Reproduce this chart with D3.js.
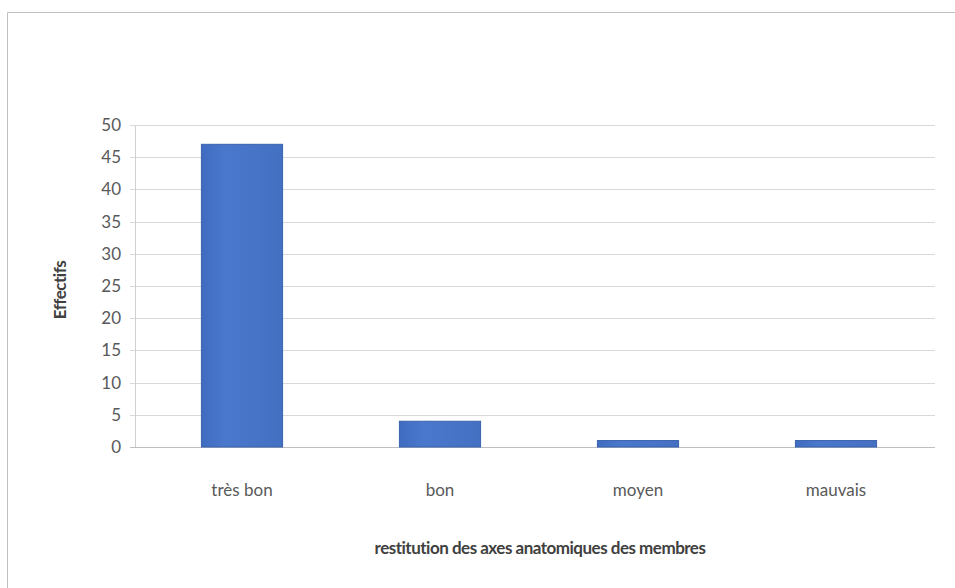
<!DOCTYPE html>
<html>
<head>
<meta charset="utf-8">
<script src="https://cdn.jsdelivr.net/npm/d3@7"></script>
<style>
  body { margin: 0; background: #fff; }
  svg text { font-family: Lato, "Open Sans", sans-serif; }
</style>
</head>
<body>
<svg id="chart" width="955" height="588"></svg>
<script>
var categories = ["très bon", "bon", "moyen", "mauvais"];
var effectifs = [47, 4, 1, 1];
var yTicks = [0, 5, 10, 15, 20, 25, 30, 35, 40, 45, 50];

var svg = d3.select("#chart");

// outer frame (only top and left edges show in the scan)
svg.append("path")
  .attr("d", "M7.5,588 V12.5 H955")
  .attr("fill", "none")
  .attr("stroke", "#c0c0c0");

var plotLeft = 143, plotRight = 935, plotTop = 125, plotBottom = 447;

var x = d3.scaleBand().domain(categories).range([plotLeft, plotRight]).paddingInner(0.59).paddingOuter(0.295);
var y = d3.scaleLinear().domain([0, 50]).range([plotBottom, plotTop]);

// gridlines
svg.append("g")
  .selectAll("line")
  .data(yTicks)
  .enter()
  .append("line")
  .attr("x1", 130).attr("x2", plotRight)
  .attr("y1", function(d){ return Math.round(y(d)) + 0.5; })
  .attr("y2", function(d){ return Math.round(y(d)) + 0.5; })
  .attr("stroke", function(d){ return d === 0 ? "#bfbfbf" : "#d9d9d9"; });

// y axis line
svg.append("line")
  .attr("x1", plotLeft - 7.5).attr("x2", plotLeft - 7.5)
  .attr("y1", plotTop).attr("y2", plotBottom)
  .attr("stroke", "#d0d0d0");

// y tick labels
svg.append("g")
  .selectAll("text")
  .data(yTicks)
  .enter()
  .append("text")
  .attr("x", 121)
  .attr("y", function(d){ return y(d); })
  .attr("dy", "0.35em")
  .attr("text-anchor", "end")
  .attr("fill", "#595959")
  .attr("font-size", 17)
  .text(function(d){ return d; });

var grad = svg.append("defs").append("linearGradient")
  .attr("id", "barGrad").attr("x1", 0).attr("x2", 1).attr("y1", 0).attr("y2", 0);
grad.append("stop").attr("offset", "0%").attr("stop-color", "#3f6cc0");
grad.append("stop").attr("offset", "30%").attr("stop-color", "#4a78cc");
grad.append("stop").attr("offset", "100%").attr("stop-color", "#4470c2");

// bars
svg.append("g")
  .selectAll("rect")
  .data(effectifs)
  .enter()
  .append("rect")
  .attr("x", function(d, i){ return x(categories[i]); })
  .attr("y", function(d){ return y(d); })
  .attr("width", x.bandwidth())
  .attr("height", function(d){ return plotBottom - y(d); })
  .attr("fill", "url(#barGrad)")
  .attr("stroke", "#3a62ad")
  .attr("stroke-width", 1);

// category labels
svg.append("g")
  .selectAll("text")
  .data(categories)
  .enter()
  .append("text")
  .attr("x", function(d){ return x(d) + x.bandwidth() / 2; })
  .attr("y", 496)
  .attr("text-anchor", "middle")
  .attr("fill", "#595959")
  .attr("font-size", 17)
  .text(function(d){ return d; });

// axis titles
svg.append("text")
  .attr("x", 540).attr("y", 554)
  .attr("text-anchor", "middle")
  .attr("fill", "#404040")
  .attr("font-size", 17)
  .attr("font-weight", "bold")
  .attr("letter-spacing", "-0.5")
  .text("restitution des axes anatomiques des membres");

svg.append("text")
  .attr("transform", "translate(66,290) rotate(-90)")
  .attr("text-anchor", "middle")
  .attr("fill", "#404040")
  .attr("font-size", 17)
  .attr("font-weight", "bold")
  .attr("letter-spacing", "-0.5")
  .text("Effectifs");
</script>
</body>
</html>
